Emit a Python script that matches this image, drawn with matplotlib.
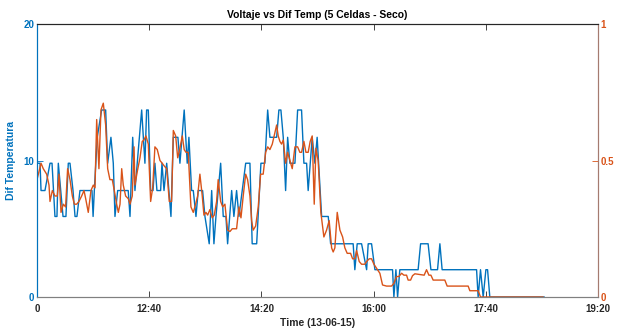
#!/usr/bin/env python3
"""
plot.py
Voltaje vs Dif Temp (5 Celdas - Seco): two series sharing the time axis,
temperature difference on the left, voltage on the right.
"""
import matplotlib
matplotlib.use("Agg")
import matplotlib.pyplot as plt

# time in minutes from the left edge of the axis (first tick)
t_temp = [0, 2.7, 3.6, 7.1, 11.6, 13.4, 16.0, 17.8, 19.0, 23.2, 25.8, 27.9,
          29.4, 32.1, 33.9, 35.6, 38.3, 49.0, 50.0, 51.1, 53.7, 57.6, 61.2,
          63.0, 65.9, 68.0, 69.5, 71.9, 81.3, 82.9, 85.3, 87.3, 93.3, 96.2,
          97.7, 99.2, 101.3, 103.4, 105.1, 106.9, 110.2, 111.4, 113.2, 115.6,
          119.4, 121.5, 125.6, 127.4, 131.2, 133.9, 135.4, 137.8, 139.3,
          141.7, 143.7, 147.6, 149.7, 153.5, 155.7, 157.7, 159.5, 163.7,
          166.0, 168.4, 169.9, 173.5, 175.5, 177.9, 180.0, 186.0, 189.8,
          191.8, 195.8, 199.6, 203.1, 205.6, 207.6, 213.6, 215.6, 217.4,
          219.5, 221.6, 223.4, 225.4, 229.9, 232.3, 235.8, 237.9, 240.3,
          241.7, 245.3, 247.7, 249.7, 253.7, 259.6, 261.7, 281.8, 283.3,
          285.4, 289.3, 293.8, 295.2, 298.2, 301.2, 316.9, 318.1, 319.9,
          321.4, 323.4, 339.7, 341.9, 348.6, 351.1, 357.0, 359.1, 361.1,
          391.8, 393.2, 395.3, 397.7, 400.1, 401.6, 403.6, 452.0]
dif_temp = [9.8, 9.8, 7.8, 7.8, 9.8, 9.8, 5.9, 5.9, 9.8, 5.9, 5.9, 9.8,
            9.8, 7.8, 5.9, 5.9, 7.8, 7.8, 5.9, 7.8, 11.7, 13.7, 13.7,
            9.8, 11.7, 9.8, 5.9, 7.8, 7.8, 5.9, 11.7, 7.8, 13.7, 9.8,
            13.7, 13.7, 7.8, 7.8, 9.8, 7.8, 7.8, 9.8, 7.8, 9.8,
            5.9, 11.7, 11.7, 9.8, 13.7, 9.8, 11.7, 7.8, 7.8,
            5.9, 7.8, 7.8, 5.9, 3.9, 7.8, 3.9, 5.9, 9.8,
            5.9, 5.9, 3.9, 7.8, 5.9, 7.8, 5.9, 9.8, 9.8,
            3.9, 3.9, 9.8, 9.8, 13.7, 11.7, 11.7, 13.7, 13.7,
            11.7, 7.8, 11.7, 9.8, 9.8, 13.7, 13.7, 9.8, 9.8,
            7.8, 11.7, 9.8, 11.7, 5.9, 5.9, 3.9, 3.9, 2.0,
            3.9, 3.9, 2.0, 3.9, 3.9, 2.0, 2.0, 0, 2.0,
            0, 2.0, 2.0, 3.9, 3.9, 2.0, 2.0, 3.9, 2.0,
            2.0, 0, 2.0, 0, 2.0, 2.0, 0, 0]

t_volt = [0, 3.6, 5.6, 8.6, 10.7, 11.6, 13.7, 16.0, 18.1, 19.6, 21.4, 23.5,
          25.5, 27.3, 29.4, 31.5, 33.3, 35.4, 37.4, 39.8, 41.9, 43.4, 45.7,
          48.1, 50.2, 51.7, 53.2, 55.2, 57.0, 59.1, 61.2, 63.0, 65.0, 67.1,
          68.9, 71.0, 72.5, 74.0, 75.5, 76.9, 79.0, 81.4, 82.9, 84.9, 86.5,
          87.3, 89.4, 91.8, 93.8, 95.3, 97.1, 99.2, 101.3, 103.1, 105.1,
          107.2, 109.6, 111.6, 113.4, 115.6, 117.9, 120.0, 121.5, 123.6,
          125.4, 127.4, 129.5, 131.2, 132.8, 134.8, 137.2, 139.3, 141.4,
          143.2, 145.2, 147.3, 148.8, 150.6, 152.1, 154.1, 156.2, 158.0,
          160.1, 161.5, 163.7, 165.5, 167.5, 169.9, 172.0, 174.0, 177.9,
          180.0, 181.8, 183.8, 186.0, 187.7, 189.8, 191.3, 192.7, 194.9,
          197.2, 199.3, 201.6, 203.8, 205.6, 207.6, 209.7, 211.4, 213.6,
          215.0, 216.5, 218.0, 219.5, 221.6, 223.4, 225.4, 227.5, 229.9,
          232.3, 234.3, 235.8, 237.9, 239.7, 241.7, 243.5, 245.3, 247.1,
          248.6, 250.6, 253.0, 255.7, 258.1, 260.4, 262.6, 264.0, 265.5,
          267.6, 270.0, 272.4, 274.4, 276.5, 279.5, 281.3, 283.3, 284.9,
          287.2, 289.3, 292.2, 293.8, 296.1, 298.2, 300.3, 302.7, 305.6,
          308.0, 311.6, 316.0, 318.1, 320.5, 322.5, 325.0, 327.0, 329.4,
          330.8, 333.0, 334.7, 336.8, 345.1, 347.2, 349.3, 351.1, 353.1,
          363.5, 365.6, 384.3, 385.8, 393.2, 395.3, 451.0]
voltaje = [0.43, 0.49, 0.47, 0.45, 0.41, 0.35, 0.39, 0.37, 0.37, 0.45, 0.31, 0.34,
           0.33, 0.47, 0.43, 0.37, 0.34, 0.34, 0.35, 0.37, 0.39, 0.36, 0.31,
           0.39, 0.41, 0.40, 0.65, 0.47, 0.685, 0.71, 0.63, 0.47, 0.43, 0.43,
           0.39, 0.34, 0.31, 0.34, 0.47, 0.41, 0.37, 0.36, 0.34, 0.37, 0.55,
           0.41, 0.46, 0.51, 0.57, 0.575, 0.59, 0.56, 0.35, 0.40, 0.55,
           0.54, 0.50, 0.49, 0.48, 0.47, 0.35, 0.35, 0.61, 0.59,
           0.51, 0.545, 0.59, 0.54, 0.53, 0.53, 0.33, 0.31, 0.34,
           0.37, 0.45, 0.37, 0.30, 0.31, 0.30, 0.32, 0.29, 0.30,
           0.35, 0.43, 0.35, 0.33, 0.34, 0.245, 0.24, 0.25, 0.25,
           0.33, 0.29, 0.37, 0.45, 0.43, 0.37, 0.28, 0.245, 0.26,
           0.33, 0.45, 0.45, 0.53, 0.55, 0.54, 0.56, 0.59, 0.63,
           0.59, 0.57, 0.56, 0.575, 0.49, 0.53, 0.50, 0.47, 0.55,
           0.55, 0.53, 0.53, 0.57, 0.53, 0.53, 0.57, 0.59, 0.34,
           0.545, 0.50, 0.31, 0.22, 0.245, 0.28, 0.18, 0.165, 0.18,
           0.31, 0.245, 0.22, 0.18, 0.16, 0.16, 0.14, 0.14, 0.17,
           0.13, 0.12, 0.12, 0.13, 0.14, 0.14, 0.12, 0.105, 0.087,
           0.044, 0.04, 0.04, 0.05, 0.075, 0.075, 0.087, 0.08, 0.08,
           0.062, 0.062, 0.078, 0.085, 0.08, 0.10, 0.08, 0.08, 0.062,
           0.062, 0.04, 0.04, 0.023, 0.023, 0, 0]

x_ticks = [0, 100, 200, 300, 400, 500]
x_ticklabels = ["0", "12:40", "14:20", "16:00", "17:40", "19:20"]

BLUE = "#0072BD"
ORANGE = "#D95319"
DARK = "#262626"

plt.rcParams["font.family"] = ["Liberation Sans", "DejaVu Sans"]
plt.rcParams["font.weight"] = "bold"
plt.rcParams["axes.labelweight"] = "bold"

fig = plt.figure(figsize=(6.27, 3.32), dpi=100)
ax = fig.add_axes([0.059, 0.1054, 0.8947, 0.8223])
ax2 = ax.twinx()

ax.plot(t_temp, dif_temp, color=BLUE, lw=1.0)
ax2.plot(t_volt, voltaje, color=ORANGE, lw=1.0)

ax.set_xlim(0, 500)
ax.set_ylim(0, 20)
ax2.set_ylim(0, 1)

ax.set_xticks(x_ticks)
ax.set_xticklabels(x_ticklabels)
ax.set_yticks([0, 10, 20])
ax2.set_yticks([0, 0.5, 1])
ax2.set_yticklabels(["0", "0.5", "1"])

ax.tick_params(axis="x", direction="in", length=4, width=0.6, colors=DARK,
               labelsize=7, top=True, pad=5)
ax.tick_params(axis="y", direction="in", length=4, width=0.6, colors=BLUE,
               labelsize=7, pad=2)
ax2.tick_params(axis="y", direction="in", length=4, width=0.6, colors=ORANGE,
                labelsize=7, pad=2)

for a in (ax, ax2):
    a.spines["top"].set_color(DARK)
    a.spines["bottom"].set_color("#808080")
    a.spines["left"].set_color(BLUE)
    a.spines["right"].set_color("#a57b70")
    for s in a.spines.values():
        s.set_linewidth(0.8)

ax.set_xlabel("Time (13-06-15)", fontsize=7.5, color=DARK, labelpad=3)
ax.set_ylabel("Dif Temperatura", fontsize=7.5, color=BLUE, labelpad=5)
ax2.set_ylabel("Voltaje", fontsize=7.5, color=ORANGE, rotation=-90,
               labelpad=10, va="bottom")
ax.set_title("Voltaje vs Dif Temp (5 Celdas - Seco)", fontsize=7.5,
             color="black", pad=4, fontweight="bold")

fig.savefig("out.png", dpi=100)
